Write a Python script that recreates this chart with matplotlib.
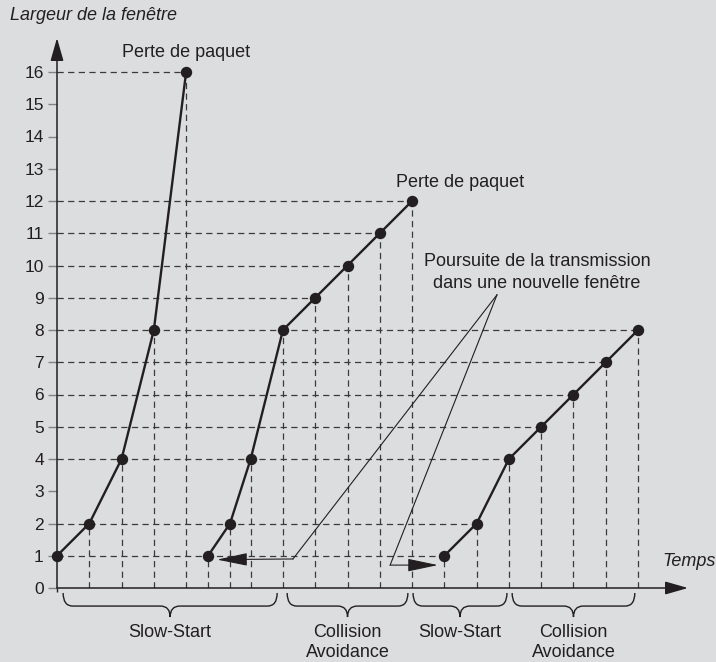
import matplotlib
matplotlib.use("Agg")
import matplotlib.pyplot as plt
from matplotlib.path import Path
from matplotlib.patches import PathPatch

plt.rcParams['font.family'] = ['Liberation Sans', 'DejaVu Sans']

# ---------------- data ----------------
t_slow1 = [0, 1, 2, 3, 4]
w_slow1 = [1, 2, 4, 8, 16]
t_run2 = [4.68, 5.36, 6, 7, 8, 9, 10, 11]
w_run2 = [1, 2, 4, 8, 9, 10, 11, 12]
t_run3 = [12, 13, 14, 15, 16, 17, 18]
w_run3 = [1, 2, 4, 5, 6, 7, 8]
y_ticks = list(range(0, 17))
phase_labels = ["Slow-Start", "Collision\nAvoidance", "Slow-Start", "Collision\nAvoidance"]
phase_spans = [(0.19, 6.82), (7.13, 10.87), (11.03, 13.94), (14.1, 17.9)]

BG = '#dcdddf'
TXT = '#231f20'
DASH = '#3a3a3a'
TICK = '#808285'

fig = plt.figure(figsize=(7.16, 6.62), dpi=100, facecolor=BG)
ux, uy = 32.28, 32.25
xmax = (688 - 57) / ux
ymax = (588 - 38) / uy
ax = fig.add_axes([57 / 716, (662 - 588) / 662, 631 / 716, 550 / 662])
ax.set_xlim(0, xmax)
ax.set_ylim(0, ymax)
ax.set_facecolor(BG)
for s in ax.spines.values():
    s.set_visible(False)

ax.set_yticks(y_ticks)
ax.set_yticklabels([str(v) for v in y_ticks])
ax.tick_params(axis='y', length=6.5, width=1, color=TICK, labelsize=12.5, pad=3, labelcolor=TXT)
ax.set_xticks([0])
ax.set_xticklabels([''])
ax.tick_params(axis='x', length=3, width=1, color=TXT)

# axis arrows
arrow_kw = dict(arrowstyle='-|>,head_length=1.4,head_width=0.4', lw=1.1, color=TXT,
                shrinkA=0, shrinkB=0, mutation_scale=10)
ax.annotate('', xy=(0, ymax), xytext=(0, 0), arrowprops=arrow_kw, annotation_clip=False, zorder=4)
ax.annotate('', xy=(xmax, 0), xytext=(0, 0), arrowprops=arrow_kw, annotation_clip=False, zorder=4)

# dashed guides
series = [(t_slow1, w_slow1), (t_run2, w_run2), (t_run3, w_run3)]
maxx = {}
for ts, ws in series:
    for t, w in zip(ts, ws):
        maxx[w] = max(maxx.get(w, 0), t)
        if t > 0:
            ax.plot([t, t], [0, w], color=DASH, lw=0.9, dashes=(5, 3.5), zorder=2)
for w, t in maxx.items():
    ax.plot([0, t], [w, w], color=DASH, lw=0.9, dashes=(5, 3.5), zorder=2)

for ts, ws in series:
    ax.plot(ts, ws, '-o', color=TXT, lw=1.7, ms=7.2, zorder=5, clip_on=False)

# braces and phase labels
def brace(xa, xb, ytop=-0.155, ymid=-0.56, ytip=-0.9, r=0.3):
    xc = (xa + xb) / 2
    verts = [(xa, ytop), (xa, ymid), (xa + r, ymid), (xc - r, ymid), (xc, ymid), (xc, ytip),
             (xc, ymid), (xc + r, ymid), (xb - r, ymid), (xb, ymid), (xb, ytop)]
    codes = [Path.MOVETO, Path.CURVE3, Path.CURVE3, Path.LINETO, Path.CURVE3, Path.CURVE3,
             Path.CURVE3, Path.CURVE3, Path.LINETO, Path.CURVE3, Path.CURVE3]
    ax.add_patch(PathPatch(Path(verts, codes), fill=False, lw=1.0, edgecolor=TXT, clip_on=False))
    return xc

for (xa, xb), lab in zip(phase_spans, phase_labels):
    xc = brace(xa, xb)
    ax.text(xc, -1.11, lab, ha='center', va='top', fontsize=13, color=TXT, linespacing=1.28)

# texts
ax.text(4, 16.6, 'Perte de paquet', ha='center', va='center', fontsize=13, color=TXT)
ax.text(12.48, 12.56, 'Perte de paquet', ha='center', va='center', fontsize=13, color=TXT)
ax.text(14.87, 9.78, 'Poursuite de la transmission\ndans une nouvelle fenêtre', ha='center', va='center',
        fontsize=13, color=TXT, linespacing=1.4)
ax.text(-1.456, 17.74, 'Largeur de la fenêtre', ha='left', va='center', fontsize=13,
        style='italic', color=TXT, clip_on=False)
ax.text(18.74, 0.81, 'Temps', ha='left', va='center', fontsize=13, style='italic', color=TXT)

# annotation lines
apex = (13.63, 9.09)
ann_kw = dict(arrowstyle='-|>,head_length=1.9,head_width=0.4', lw=0.8, color=TXT,
              shrinkA=0, shrinkB=0, mutation_scale=10)
ax.plot([apex[0], 7.31], [apex[1], 0.9], color=TXT, lw=0.8, zorder=3)
ax.annotate('', xy=(4.96, 0.88), xytext=(7.31, 0.9), arrowprops=ann_kw, zorder=3)
ax.plot([apex[0], 10.32], [apex[1], 0.71], color=TXT, lw=0.8, zorder=3)
ax.annotate('', xy=(11.8, 0.71), xytext=(10.32, 0.71), arrowprops=ann_kw, zorder=3)

fig.savefig('out.png', dpi=100, facecolor=BG)
